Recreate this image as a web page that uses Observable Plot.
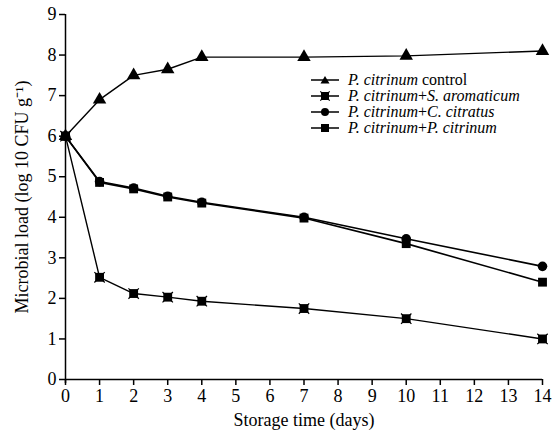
<!DOCTYPE html>
<html><head><meta charset="utf-8">
<script src="https://cdn.jsdelivr.net/npm/d3@7"></script>
<script src="https://cdn.jsdelivr.net/npm/@observablehq/plot@0.6"></script>
<style>
body{margin:0;background:#fff}
#wrap{position:relative;width:559px;height:438px;color:#000}
#legend{position:absolute;left:305px;top:70px}
</style>
</head><body><div id="wrap"><svg id="legend" width="254" height="70"></svg></div>
<script>
const days = [0, 1, 2, 3, 4, 7, 10, 14];
const controlVals = [6.0, 6.9, 7.5, 7.65, 7.95, 7.95, 7.98, 8.1];
const aromaticumVals = [6.0, 2.52, 2.12, 2.03, 1.93, 1.75, 1.5, 1.0];
const citratusVals = [6.0, 4.88, 4.72, 4.52, 4.37, 4.0, 3.47, 2.79];
const citrinumVals = [6.0, 4.86, 4.7, 4.5, 4.35, 3.98, 3.35, 2.4];
const seriesKeys = ["control", "aromaticum", "citratus", "citrinum"];
const legendItalic = ["P. citrinum", "P. citrinum+S. aromaticum", "P. citrinum+C. citratus", "P. citrinum+P. citrinum"];
const xTicks = d3.range(0, 15);
const yTicks = d3.range(0, 10);

const valuesByKey = {control: controlVals, aromaticum: aromaticumVals, citratus: citratusVals, citrinum: citrinumVals};
const rows = seriesKeys.flatMap(k => days.map((d, i) => ({series: k, day: d, value: valuesByKey[k][i]})));
const sel = k => rows.filter(r => r.series === k);

const chart = Plot.plot({
  width: 559, height: 438,
  marginLeft: 65, marginTop: 14, marginRight: 17, marginBottom: 59,
  style: {fontFamily: '"Liberation Serif", serif', fontSize: "18px", color: "#000", background: "#fff"},
  x: {domain: [0, 14]},
  y: {domain: [0, 9]},
  marks: [
    Plot.ruleX([0], {stroke: "#000", strokeWidth: 1.5, y1: -0.1, y2: 9}),
    Plot.ruleY([0], {stroke: "#000", strokeWidth: 1.5}),
    Plot.axisX({ticks: xTicks, tickSize: 6, tickPadding: 4, tickFormat: d => d, strokeWidth: 1.5, fontSize: 18,
      label: "Storage time (days)", labelAnchor: "center", labelArrow: "none", labelOffset: 46}),
    Plot.axisY({ticks: yTicks, tickSize: 6, tickPadding: 3, tickFormat: d => d, strokeWidth: 1.5, fontSize: 18,
      label: "Microbial load (log 10 CFU g\u207B\u00B9)", labelAnchor: "center", labelArrow: "none", labelOffset: 50}),
    ...seriesKeys.map(k => Plot.line(sel(k), {x: "day", y: "value", stroke: "#000", strokeWidth: k === "citrinum" || k === "citratus" ? 1.6 : 1.4})),
    Plot.dot(sel("control"), {x: "day", y: "value", symbol: "triangle", fill: "#000", r: 5}),
    Plot.dot(sel("citratus"), {x: "day", y: "value", symbol: "circle", fill: "#000", r: 4.8}),
    Plot.dot(sel("citrinum"), {x: "day", y: "value", symbol: "square", fill: "#000", r: 5}),
    Plot.dot(sel("aromaticum"), {x: "day", y: "value", symbol: "square", fill: "#000", r: 5}),
    Plot.dot(sel("aromaticum"), {x: "day", y: "value", symbol: "times", stroke: "#000", strokeWidth: 1.2, r: 4.8})
  ]
});
document.getElementById("wrap").prepend(chart);

// legend (overlay SVG, same font as axes)
const legendSymbols = {
  control: '<path d="M15,-4 L19.5,3.5 L10.5,3.5 Z" fill="#000"/>',
  aromaticum: '<rect x="11" y="-4" width="8" height="8" fill="#000"/><path d="M10.3,-4.7 L19.7,4.7 M19.7,-4.7 L10.3,4.7" stroke="#000" stroke-width="1.2"/>',
  citratus: '<circle cx="15" cy="0" r="4" fill="#000"/>',
  citrinum: '<rect x="11" y="-4" width="8" height="8" fill="#000"/>'
};
const legendRest = [" control", "", "", ""];
const leg = d3.select("#legend");
seriesKeys.forEach((k, i) => {
  const g = leg.append("g").attr("transform", `translate(5,${10 + i * 16})`);
  g.html(`<line x1="1" y1="0" x2="29" y2="0" stroke="#000" stroke-width="1.5"/>${legendSymbols[k]}`);
  const t = g.append("text").attr("x", 38).attr("y", 5)
    .attr("font-family", '"Liberation Serif", serif').attr("font-size", 16).attr("fill", "#000");
  legendItalic[i].split("+").forEach((s, j) => {
    if (j > 0) t.append("tspan").text("+");
    t.append("tspan").attr("font-style", "italic").text(s);
  });
  if (legendRest[i]) t.append("tspan").text(legendRest[i]);
});
</script>
</body></html>
